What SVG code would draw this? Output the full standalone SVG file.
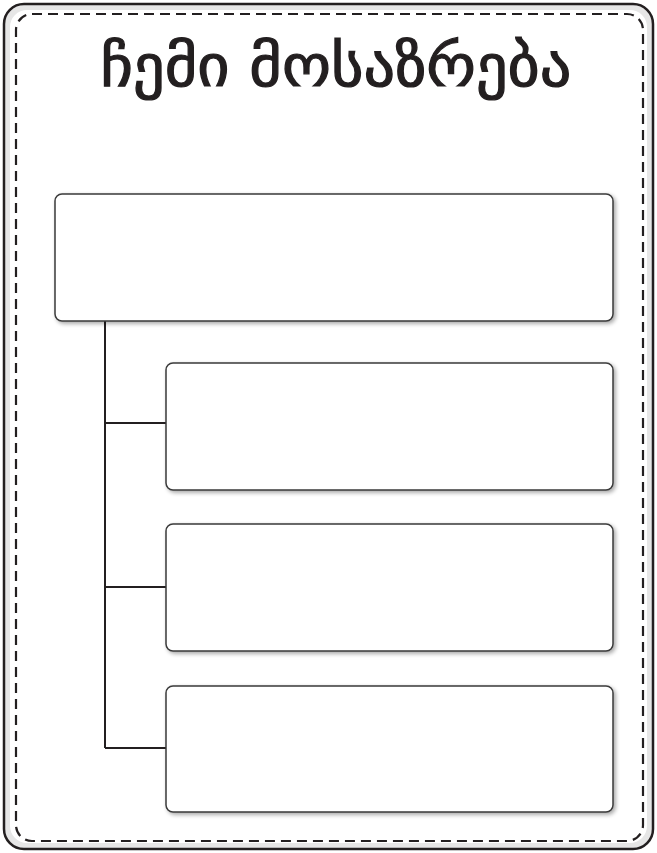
<svg xmlns="http://www.w3.org/2000/svg" width="657" height="853" viewBox="0 0 657 853">
<defs>
<filter id="sh" x="-5%" y="-5%" width="115%" height="115%">
<feGaussianBlur in="SourceAlpha" stdDeviation="2"/>
<feOffset dx="2" dy="2" result="b"/>
<feComponentTransfer><feFuncA type="linear" slope="0.35"/></feComponentTransfer>
<feMerge><feMergeNode/><feMergeNode in="SourceGraphic"/></feMerge>
</filter>
<style>
.box{fill:#fff;stroke:#3a3a3a;stroke-width:1.5}
.con{fill:none;stroke:#231f20;stroke-width:2}
.title{font-family:"DejaVu Sans","Noto Sans",sans-serif;font-size:58px;fill:#231f20;stroke:#231f20;stroke-width:1.2;text-anchor:middle}
</style>
</defs>
<rect width="657" height="853" fill="#fff"/>
<g id="frame">
<rect x="4" y="4" width="649" height="845" rx="20" fill="#e6e6e6" stroke="#231f20" stroke-width="2.5"/>
<rect x="10" y="10" width="637" height="833" rx="17" fill="#fff"/>
<rect x="16" y="14" width="627" height="827" rx="16" fill="#fff" stroke="#231f20" stroke-width="2.2" stroke-dasharray="10 6"/>
</g>
<g id="title"><text class="title" x="336" y="86" textLength="471" lengthAdjust="spacingAndGlyphs">ჩემი მოსაზრება</text></g>
<g id="connectors">
<path class="con" d="M105 321V748M105 423H166M105 587H166M105 748H166"/>
</g>
<g id="node1"><rect class="box" x="55" y="194" width="558" height="127" rx="7" filter="url(#sh)"/></g>
<g id="node2"><rect class="box" x="166" y="363" width="447" height="127" rx="7" filter="url(#sh)"/></g>
<g id="node3"><rect class="box" x="166" y="524" width="447" height="127" rx="7" filter="url(#sh)"/></g>
<g id="node4"><rect class="box" x="166" y="686" width="447" height="126" rx="7" filter="url(#sh)"/></g>
</svg>
